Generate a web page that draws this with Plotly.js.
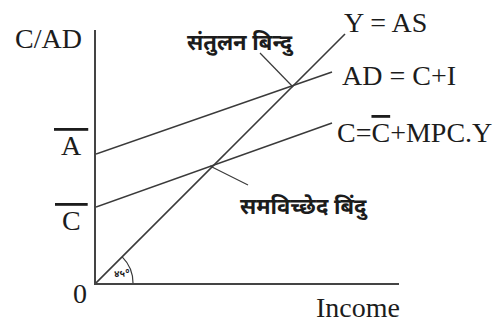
<!DOCTYPE html>
<html>
<head>
<meta charset="utf-8">
<script src="https://cdn.plot.ly/plotly-3.0.1.min.js"></script>
<style>
  html, body { margin: 0; padding: 0; background: #fff; }
  #chart { width: 501px; height: 326px; }
</style>
</head>
<body>
<div id="chart"></div>
<script>
// Values (1 unit = 1 px of the original)
const asX = [0, 249];          // Y = AS, 45 degree line
const asY = [0, 249];
const adX = [0, 236];          // AD = C + I
const adY = [129, 211];
const cX = [0, 236];           // C = Cbar + MPC.Y
const cY = [76, 160];

const eqPoint = [197, 196];        // संतुलन बिन्दु
const breakEvenPoint = [114, 117]; // समविच्छेद बिंदु
const eqLabelAnchor = [164, 230];
const beLabelAnchor = [152, 98];

const interceptLabels = ['A', 'C'];
const interceptValues = [129, 76];

const ink = '#1c1c1c';
const serif = '"Liberation Serif", "Times New Roman", serif';
const deva = '"Noto Sans", "Noto Sans Devanagari", sans-serif';

const lineStyle = { color: '#3a3a3a', width: 1.6 };

const data = [
    { x: asX, y: asY, mode: 'lines', line: lineStyle, hoverinfo: 'skip' },
    { x: adX, y: adY, mode: 'lines', line: lineStyle, hoverinfo: 'skip' },
    { x: cX, y: cY, mode: 'lines', line: lineStyle, hoverinfo: 'skip' },
    // leader lines to the two points
    { x: [eqLabelAnchor[0], eqPoint[0]], y: [eqLabelAnchor[1], eqPoint[1]],
      mode: 'lines', line: { color: '#3a3a3a', width: 1.2 }, hoverinfo: 'skip' },
    { x: [breakEvenPoint[0], beLabelAnchor[0]], y: [breakEvenPoint[1], beLabelAnchor[1]],
      mode: 'lines', line: { color: '#3a3a3a', width: 1.2 }, hoverinfo: 'skip' }
];

// 45 degree arc at the origin (cubic bezier)
const r = 37;
const k = 4 / 3 * Math.tan(Math.PI / 16) * r;
const c45 = Math.SQRT1_2;
const arcPath = 'M ' + r + ' 0 C ' + r + ' ' + k + ', ' +
    (r * c45 + k * c45) + ' ' + (r * c45 - k * c45) + ', ' +
    (r * c45) + ' ' + (r * c45);

const big = { family: serif, size: 28, color: ink };
const devaFont = { family: deva, size: 22, color: ink, weight: 'bold' };

const annotations = [
    { x: 0, y: 253, text: 'C/AD', showarrow: false,
      xanchor: 'right', yanchor: 'middle', xshift: -12, yshift: -8, font: big },
    { x: 0, y: 0, text: '0', showarrow: false, xanchor: 'right', yanchor: 'middle',
      xshift: -7, yshift: -10, font: big },
    { x: 221, y: 0, text: 'Income', showarrow: false, xanchor: 'left', yanchor: 'middle',
      xshift: -3, yshift: -24, font: big },
    { x: asX[1], y: asY[1], text: 'Y = AS', showarrow: false, xanchor: 'left',
      yanchor: 'middle', xshift: -3, yshift: 12, font: big },
    { x: adX[1], y: adY[1], text: 'AD = C+I', showarrow: false, xanchor: 'left',
      yanchor: 'middle', xshift: 8, yshift: -3, font: big },
    { x: cX[1], y: cY[1], text: 'C=<span style="text-decoration:overline">C</span>+MPC.Y',
      showarrow: false, xanchor: 'left', yanchor: 'middle', xshift: 3, yshift: -9,
      font: big },
    { x: eqLabelAnchor[0], y: eqLabelAnchor[1], text: 'संतुलन बिन्दु', showarrow: false,
      xanchor: 'center', yanchor: 'middle', xshift: -20, yshift: 12, font: devaFont },
    { x: beLabelAnchor[0], y: beLabelAnchor[1], text: 'समविच्छेद बिंदु', showarrow: false,
      xanchor: 'center', yanchor: 'middle', xshift: 56, yshift: -20, font: devaFont },
    { x: 25, y: 10, text: '४५°', showarrow: false, xanchor: 'center', yanchor: 'middle',
      font: { family: deva, size: 10, color: ink, weight: 'bold' } }
];

// intercept letters with a bar over them
for (let i = 0; i < interceptLabels.length; i++) {
    annotations.push({
        x: 0, y: interceptValues[i], text: '<span style="text-decoration:overline">&nbsp;' +
            interceptLabels[i] + '&nbsp;</span>',
        showarrow: false, xanchor: 'right', yanchor: 'middle',
        xshift: -6, yshift: i === 0 ? 9 : -13, font: big
    });
}

const layout = {
    width: 501,
    height: 326,
    margin: { l: 96, r: 102, t: 30, b: 43 },
    paper_bgcolor: '#ffffff',
    plot_bgcolor: '#ffffff',
    showlegend: false,
    xaxis: {
        range: [0, 303], showgrid: false, zeroline: false, showticklabels: false,
        ticks: '', showline: true, linecolor: '#444', linewidth: 2.2, fixedrange: true
    },
    yaxis: {
        range: [0, 253], showgrid: false, zeroline: false, showticklabels: false,
        ticks: '', showline: true, linecolor: '#444', linewidth: 2.2, fixedrange: true
    },
    shapes: [
        { type: 'path', path: arcPath, xref: 'x', yref: 'y',
          line: { color: '#3a3a3a', width: 1.2 } }
    ],
    annotations: annotations
};

Plotly.newPlot('chart', data, layout, { displayModeBar: false, staticPlot: true });
</script>
</body>
</html>
